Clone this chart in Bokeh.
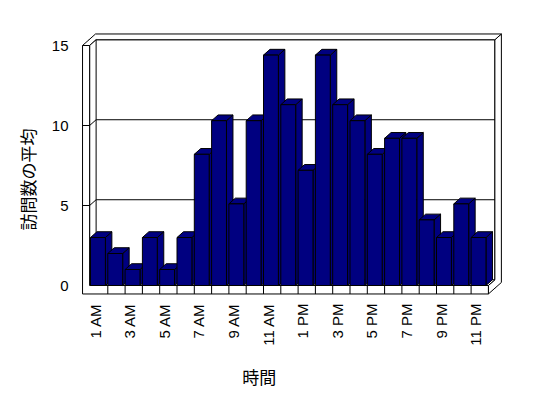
from math import pi
from bokeh.plotting import figure
from bokeh.models import Range1d, FixedTicker, Title, Label
from bokeh.core.properties import value
from bokeh.embed import file_html
from bokeh.resources import INLINE

# ---- data ----
hours = ["1 AM", "2 AM", "3 AM", "4 AM", "5 AM", "6 AM", "7 AM", "8 AM", "9 AM", "10 AM",
         "11 AM", "12 PM", "1 PM", "2 PM", "3 PM", "4 PM", "5 PM", "6 PM", "7 PM", "8 PM",
         "9 PM", "10 PM", "11 PM"]
visits = [3.0, 2.0, 1.0, 3.0, 1.0, 3.0, 8.2, 10.3, 5.1, 10.3, 14.4, 11.3,
          7.2, 14.4, 11.3, 10.3, 8.2, 9.2, 9.2, 4.1, 3.0, 5.1, 3.0]
y_ticks = [0, 5, 10, 15]
x_title = "時間"
y_title = "訪問数の平均"

# ---- 3D geometry / style ----
DX, DY = 0.375, 0.36      # depth offset per depth unit (data units)
N = len(hours)
U0, T = -0.05, 0.41       # left wall inner face, wall thickness
U1 = float(N)
VT = float(y_ticks[-1])
V0 = -0.53                # floor bottom
BW = 0.86                 # bar width
BAR_COLOR = "#000080"
LABEL_GAP = 0.6           # gap between floor and category labels (value units)
TICK_FONT = "Liberation Sans"


def proj(pts):
    xs = [u + z * DX for (u, v, z) in pts]
    ys = [v + z * DY for (u, v, z) in pts]
    return xs, ys


p = figure(width=548, height=398,
           x_range=Range1d(-1.0405, 24.393), y_range=Range1d(-7.0625, 16.0625),
           output_backend="svg", toolbar_location=None,
           min_border_left=72, min_border_right=36, min_border_top=28, min_border_bottom=0)
p.background_fill_color = "white"
p.border_fill_color = "white"
p.outline_line_color = None
p.xgrid.visible = False
p.ygrid.visible = False
p.xaxis.visible = False

# walls / floor
walls = [
    [(U0 - T, V0, 1), (U1, V0, 1), (U1, VT, 1), (U0 - T, VT, 1)],
    [(U1, V0, 0), (U1, V0, 2), (U1, VT, 2), (U1, VT, 1), (U1, 0, 1), (U1, 0, 0)],
    [(U0 - T, VT, 0), (U0, VT, 0), (U0, VT, 1), (U1, VT, 1), (U1, VT, 2), (U0 - T, VT, 2)],
    [(U0, 0, 0), (U0, 0, 1), (U0, VT, 1), (U0, VT, 0)],
    [(U0, 0, 0), (U1, 0, 0), (U1, 0, 1), (U0, 0, 1)],
    [(U0 - T, V0, 0), (U1, V0, 0), (U1, 0, 0), (U0, 0, 0), (U0, VT, 0), (U0 - T, VT, 0)],
]
wx, wy = zip(*[proj(w) for w in walls])
p.patches(list(wx), list(wy), fill_color="white", line_color="black", line_width=1)

# gridlines
gx, gy = [], []
for t in y_ticks:
    if 0 < t < VT:
        xs, ys = proj([(U0 - T, t, 0), (U0, t, 0), (U0, t, 1), (U1, t, 1)])
        gx.append(xs)
        gy.append(ys)
p.multi_line(gx, gy, line_color="black", line_width=1)

# floor category ticks
fx, fy = [], []
for i in range(1, N):
    xs, ys = proj([(i, V0, 0), (i, 0, 0)])
    fx.append(xs)
    fy.append(ys)
p.multi_line(fx, fy, line_color="black", line_width=1)

# bars (back to front: left to right; side, top, front)
bx, by = [], []
for i, val in enumerate(visits):
    x0, x1 = i, i + BW
    faces = [
        [(x1, 0, 0), (x1, 0, 1), (x1, val, 1), (x1, val, 0)],
        [(x0, val, 0), (x1, val, 0), (x1, val, 1), (x0, val, 1)],
        [(x0, 0, 0), (x1, 0, 0), (x1, val, 0), (x0, val, 0)],
    ]
    for f in faces:
        xs, ys = proj(f)
        bx.append(xs)
        by.append(ys)
p.patches(bx, by, fill_color=BAR_COLOR, line_color="black", line_width=1)

# category labels (every other hour), vertical, reading bottom to top
lab_idx = list(range(0, N, 2))
p.text(x=[i + 0.27 for i in lab_idx], y=[V0 - LABEL_GAP] * len(lab_idx),
       text=[hours[i] for i in lab_idx], angle=pi / 2,
       text_align="right", text_baseline="middle",
       text_font=value(TICK_FONT), text_font_size="15px", text_color="black")

# y axis
p.yaxis.ticker = FixedTicker(ticks=y_ticks)
p.yaxis.major_label_standoff = 4
p.yaxis.axis_line_color = None
p.yaxis.major_tick_line_color = None
p.yaxis.minor_tick_line_color = None
p.yaxis.major_tick_out = 0
p.yaxis.minor_tick_out = 0
p.yaxis.major_tick_in = 0
p.yaxis.minor_tick_in = 0
p.yaxis.major_label_text_font = TICK_FONT
p.yaxis.major_label_text_font_size = "15px"
p.yaxis.major_label_text_color = "black"

# axis titles
p.add_layout(Label(x=9.75, y=-5.66, text=x_title, text_align="center", text_baseline="middle",
                   text_font="Noto Sans CJK JP", text_font_size="17px", text_color="black"))
p.add_layout(Title(text=y_title, align="left", offset=168, vertical_align="bottom", standoff=18,
                   text_font="Noto Sans CJK JP", text_font_size="17px",
                   text_font_style="normal", text_color="black"), "left")

open("out.html", "w").write(file_html(p, INLINE))
